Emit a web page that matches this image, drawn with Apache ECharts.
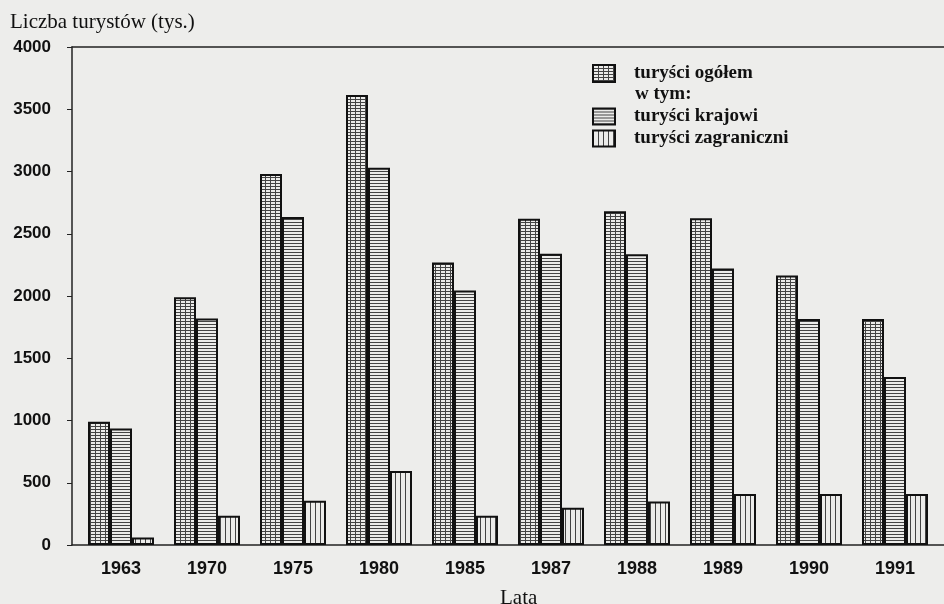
<!DOCTYPE html>
<html>
<head>
<meta charset="utf-8">
<script src="https://cdn.jsdelivr.net/npm/echarts@6/dist/echarts.min.js"></script>
<style>
  html, body { margin: 0; padding: 0; background: #ededeb; }
  #chart { width: 944px; height: 604px; }
</style>
</head>
<body>
<div id="chart"></div>
<script>
// dane (tys. turystów)
const years = ['1963', '1970', '1975', '1980', '1985', '1987', '1988', '1989', '1990', '1991']
const ogolem = [990, 1990, 2980, 3615, 2270, 2620, 2680, 2625, 2165, 1815]
const krajowi = [935, 1820, 2635, 3030, 2045, 2340, 2335, 2220, 1815, 1350]
const zagraniczni = [60, 235, 355, 595, 235, 300, 350, 410, 410, 410]
const yTicks = [0, 500, 1000, 1500, 2000, 2500, 3000, 3500, 4000]

// wzory kreskowania jak w druku
function makePattern(w, h, vertical, horizontal) {
  const c = document.createElement('canvas')
  c.width = w
  c.height = h
  const ctx = c.getContext('2d')
  ctx.fillStyle = '#ececea'
  ctx.fillRect(0, 0, w, h)
  ctx.fillStyle = '#444'
  if (vertical) ctx.fillRect(0, 0, 1, h)
  if (horizontal) ctx.fillRect(0, 0, w, 1)
  return { image: c, repeat: 'repeat' }
}

const patOgolem = makePattern(5, 3, true, true)
const patKrajowi = makePattern(4, 3, false, true)
const patZagr = makePattern(5, 4, true, false)

const chart = echarts.init(document.getElementById('chart'))

const serifFont = '"Liberation Serif", "Times New Roman", serif'
const sansFont = '"Liberation Sans", Arial, sans-serif'

function barSeries(name, data, pattern) {
  return {
    name: name,
    type: 'bar',
    xAxisIndex: 2,
    yAxisIndex: 1,
    data: data,
    barWidth: 22,
    barGap: '0%',
    itemStyle: {
      color: pattern,
      borderColor: '#111',
      borderWidth: 2
    }
  }
}

const legendText = { fontFamily: serifFont, fontSize: 19, fontWeight: 'bold', color: '#111', padding: [0, 0, 0, 14] }

const option = {
  backgroundColor: '#ededeb',
  animation: false,
  title: [
    {
      text: 'Liczba turystów (tys.)',
      left: 5,
      top: 7,
      textStyle: { fontFamily: serifFont, fontSize: 21, fontWeight: 'normal', color: '#111' }
    },
    {
      text: 'w tym:',
      left: 630,
      top: 80,
      textStyle: { fontFamily: serifFont, fontSize: 19, fontWeight: 'bold', color: '#111' }
    },
    {
      text: 'Lata',
      left: 495,
      top: 583,
      textStyle: { fontFamily: serifFont, fontSize: 21, fontWeight: 'normal', color: '#111' }
    }
  ],
  legend: [
    {
      data: ['turyści ogółem'],
      icon: 'rect',
      left: 587,
      top: 59,
      itemWidth: 22,
      itemHeight: 17,
      textStyle: legendText
    },
    {
      data: ['turyści krajowi', 'turyści zagraniczni'],
      icon: 'rect',
      orient: 'vertical',
      left: 587,
      top: 102,
      itemGap: 3,
      itemWidth: 22,
      itemHeight: 16,
      textStyle: legendText
    }
  ],
  grid: [
    { left: 72, right: 0, top: 47, bottom: 59 },
    { left: 78, right: 6, top: 47, bottom: 59 }
  ],
  xAxis: [
    {
      gridIndex: 0,
      type: 'value',
      min: 0,
      max: 1,
      position: 'bottom',
      axisLine: { show: true, lineStyle: { color: '#222', width: 1.5 } },
      axisTick: { show: false },
      axisLabel: { show: false },
      splitLine: { show: false }
    },
    {
      gridIndex: 0,
      type: 'value',
      min: 0,
      max: 1,
      position: 'top',
      axisLine: { show: true, lineStyle: { color: '#222', width: 1.5 } },
      axisTick: { show: false },
      axisLabel: { show: false },
      splitLine: { show: false }
    },
    {
      gridIndex: 1,
      type: 'category',
      data: years,
      axisLine: { show: false },
      axisTick: { show: false },
      axisLabel: { margin: 15, fontFamily: sansFont, fontSize: 18, fontWeight: 'bold', color: '#111' }
    }
  ],
  yAxis: [
    {
      gridIndex: 0,
      type: 'value',
      min: yTicks[0],
      max: yTicks[yTicks.length - 1],
      interval: 500,
      axisLine: { show: true, lineStyle: { color: '#222', width: 1.5 } },
      axisTick: { show: true, length: 5, lineStyle: { color: '#222' } },
      axisLabel: {
        margin: 21,
        fontFamily: sansFont,
        fontSize: 17,
        fontWeight: 'bold',
        color: '#111',
        formatter: function (v) { return String(v) }
      },
      splitLine: { show: false }
    },
    {
      gridIndex: 1,
      type: 'value',
      min: yTicks[0],
      max: yTicks[yTicks.length - 1],
      show: false
    }
  ],
  series: [
    barSeries('turyści ogółem', ogolem, patOgolem),
    barSeries('turyści krajowi', krajowi, patKrajowi),
    barSeries('turyści zagraniczni', zagraniczni, patZagr)
  ]
}

chart.setOption(option)
</script>
</body>
</html>
